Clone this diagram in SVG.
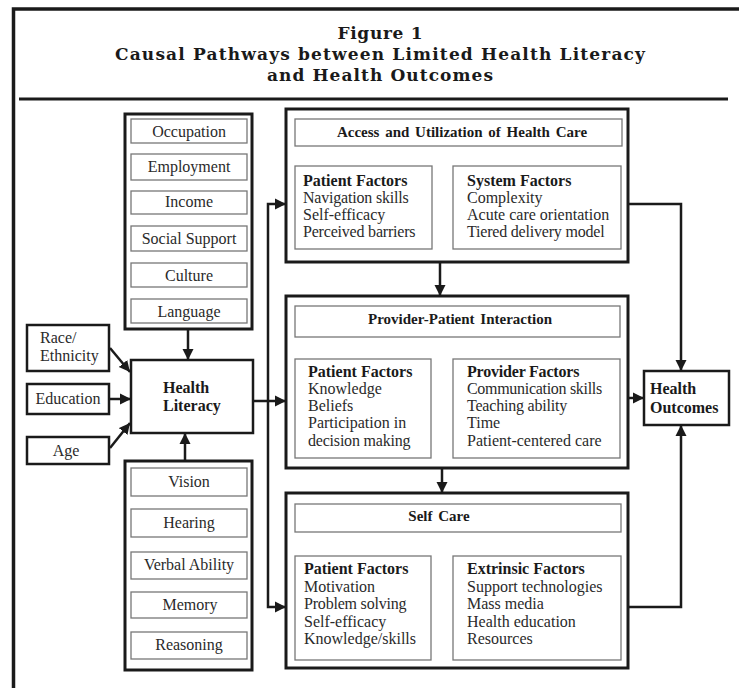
<svg xmlns="http://www.w3.org/2000/svg" width="739" height="688" viewBox="0 0 739 688">
<defs>
<marker id="ah" markerUnits="userSpaceOnUse" markerWidth="12" markerHeight="12" viewBox="0 0 12 12" refX="11" refY="6" orient="auto">
<path d="M0,0.5 L11,6 L0,11.5 z" fill="#1a1a1a"/>
</marker>
<style>
.frame{fill:none;stroke:#1a1a1a;stroke-width:3.5}
.grp{fill:#fff;stroke:#1a1a1a;stroke-width:3}
.box{fill:#fff;stroke:#1a1a1a;stroke-width:2.5}
.inner{fill:#fff;stroke:#777;stroke-width:1.3}
.t{font-family:"Liberation Serif","Times New Roman",serif;font-size:16px;fill:#2a2a2a}
.c{text-anchor:middle}
.b{font-weight:bold;fill:#1a1a1a}
.hd{font-family:"Liberation Serif","Times New Roman",serif;font-size:15px;font-weight:bold;fill:#1a1a1a;text-anchor:middle;word-spacing:2px}
.title{font-family:"DejaVu Serif","Liberation Serif",serif;font-size:17px;font-weight:bold;fill:#1a1a1a;text-anchor:middle}
.con{fill:none;stroke:#1a1a1a;stroke-width:2.5}
.arr{marker-end:url(#ah)}
</style>
</defs>
<rect width="739" height="688" fill="#fff"/>

<g id="frame">
<path class="frame" d="M13.5,688 V9 H739"/>
<line x1="19" y1="99" x2="728" y2="99" stroke="#1a1a1a" stroke-width="3"/>
<text class="title" x="380" y="39" textLength="85" lengthAdjust="spacing">Figure 1</text>
<text class="title" x="380" y="60" textLength="530" lengthAdjust="spacing">Causal Pathways between Limited Health Literacy</text>
<text class="title" x="380" y="81" textLength="226" lengthAdjust="spacing">and Health Outcomes</text>
</g>

<g id="social-factors">
<rect class="grp" x="125" y="114" width="127" height="215"/>
<rect class="inner" x="131" y="119" width="116" height="24"/>
<text class="t c" x="189" y="137">Occupation</text>
<rect class="inner" x="131" y="154" width="116" height="26"/>
<text class="t c" x="189" y="172">Employment</text>
<rect class="inner" x="131" y="191" width="116" height="23"/>
<text class="t c" x="189" y="207">Income</text>
<rect class="inner" x="131" y="226" width="116" height="25"/>
<text class="t c" x="189" y="244">Social Support</text>
<rect class="inner" x="131" y="263" width="116" height="24"/>
<text class="t c" x="189" y="281">Culture</text>
<rect class="inner" x="131" y="299" width="116" height="24"/>
<text class="t c" x="189" y="317">Language</text>
</g>

<g id="race">
<rect class="box" x="27" y="325" width="82" height="46"/>
<text class="t" x="40" y="343">Race/</text>
<text class="t" x="40" y="361">Ethnicity</text>
</g>
<g id="education">
<rect class="box" x="27" y="384" width="82" height="30"/>
<text class="t c" x="68" y="404">Education</text>
</g>
<g id="age">
<rect class="box" x="27" y="437" width="82" height="27"/>
<text class="t c" x="66" y="456">Age</text>
</g>

<g id="health-literacy">
<rect class="box" x="131" y="360" width="122" height="73"/>
<text class="t b" x="163" y="393">Health</text>
<text class="t b" x="163" y="411">Literacy</text>
</g>

<g id="individual-factors">
<rect class="grp" x="125" y="461" width="127" height="209"/>
<rect class="inner" x="131" y="468" width="116" height="28"/>
<text class="t c" x="189" y="487">Vision</text>
<rect class="inner" x="131" y="509" width="116" height="28"/>
<text class="t c" x="189" y="528">Hearing</text>
<rect class="inner" x="131" y="552" width="116" height="27"/>
<text class="t c" x="189" y="570">Verbal Ability</text>
<rect class="inner" x="131" y="592" width="116" height="26"/>
<text class="t c" x="190" y="610">Memory</text>
<rect class="inner" x="131" y="632" width="116" height="27"/>
<text class="t c" x="189" y="650">Reasoning</text>
</g>

<g id="access">
<rect class="grp" x="286" y="109" width="342" height="153"/>
<rect class="inner" x="295" y="119" width="327" height="27"/>
<text class="hd" x="462" y="137">Access and Utilization of Health Care</text>
<rect class="inner" x="295" y="166" width="137" height="83"/>
<text class="t b" x="303" y="186">Patient Factors</text>
<text class="t" x="303" y="203" letter-spacing="-0.2">Navigation skills</text>
<text class="t" x="303" y="220">Self-efficacy</text>
<text class="t" x="303" y="237" letter-spacing="-0.2">Perceived barriers</text>
<rect class="inner" x="453" y="166" width="168" height="83"/>
<text class="t b" x="467" y="186">System Factors</text>
<text class="t" x="467" y="203">Complexity</text>
<text class="t" x="467" y="220">Acute care orientation</text>
<text class="t" x="467" y="237" letter-spacing="-0.2">Tiered delivery model</text>
</g>

<g id="provider-patient">
<rect class="grp" x="286" y="296" width="342" height="172"/>
<rect class="inner" x="295" y="306" width="325" height="31"/>
<text class="hd" x="460" y="324">Provider-Patient Interaction</text>
<rect class="inner" x="295" y="359" width="136" height="99"/>
<text class="t b" x="308" y="377">Patient Factors</text>
<text class="t" x="308" y="394">Knowledge</text>
<text class="t" x="308" y="411">Beliefs</text>
<text class="t" x="308" y="428">Participation in</text>
<text class="t" x="308" y="446" letter-spacing="-0.2">decision making</text>
<rect class="inner" x="453" y="359" width="167" height="99"/>
<text class="t b" x="467" y="377" letter-spacing="-0.2">Provider Factors</text>
<text class="t" x="467" y="394" letter-spacing="-0.3">Communication skills</text>
<text class="t" x="467" y="411" letter-spacing="-0.2">Teaching ability</text>
<text class="t" x="467" y="428">Time</text>
<text class="t" x="467" y="446">Patient-centered care</text>
</g>

<g id="self-care">
<rect class="grp" x="286" y="493" width="342" height="175"/>
<rect class="inner" x="295" y="504" width="326" height="28"/>
<text class="hd" x="439" y="521">Self Care</text>
<rect class="inner" x="295" y="556" width="136" height="104"/>
<text class="t b" x="304" y="574">Patient Factors</text>
<text class="t" x="304" y="592">Motivation</text>
<text class="t" x="304" y="609" letter-spacing="-0.2">Problem solving</text>
<text class="t" x="304" y="627">Self-efficacy</text>
<text class="t" x="304" y="644">Knowledge/skills</text>
<rect class="inner" x="453" y="556" width="168" height="104"/>
<text class="t b" x="467" y="574">Extrinsic Factors</text>
<text class="t" x="467" y="592">Support technologies</text>
<text class="t" x="467" y="609">Mass media</text>
<text class="t" x="467" y="627">Health education</text>
<text class="t" x="467" y="644">Resources</text>
</g>

<g id="health-outcomes">
<rect class="box" x="644" y="371" width="85" height="54"/>
<text class="t b" x="650" y="394">Health</text>
<text class="t b" x="650" y="413">Outcomes</text>
</g>

<g id="connectors">
<line class="con arr" x1="188" y1="329" x2="188" y2="360"/>
<line class="con arr" x1="185" y1="461" x2="185" y2="433"/>
<line class="con arr" x1="110" y1="348" x2="130" y2="372"/>
<line class="con arr" x1="109" y1="399" x2="131" y2="399"/>
<line class="con arr" x1="110" y1="448" x2="130" y2="423"/>
<line class="con arr" x1="253" y1="401" x2="286" y2="401"/>
<path class="con arr" d="M268,401 V204 H286"/>
<path class="con arr" d="M268,401 V607 H286"/>
<line class="con arr" x1="440" y1="262" x2="440" y2="296"/>
<line class="con arr" x1="442" y1="468" x2="442" y2="493"/>
<path class="con arr" d="M628,204 H681 V371"/>
<line class="con arr" x1="628" y1="398" x2="644" y2="398"/>
<path class="con arr" d="M628,607 H681 V425"/>
</g>
</svg>
